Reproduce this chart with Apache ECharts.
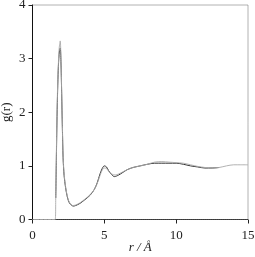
<!DOCTYPE html>
<html><head><meta charset="utf-8">
<script src="https://cdn.jsdelivr.net/npm/echarts@6/dist/echarts.min.js"></script>
<style>html,body{margin:0;padding:0;background:#fff}#c{width:255px;height:257px}</style>
</head><body><div id="c"></div>
<script>
const rGray = [0, 1.58, 1.62, 1.66, 1.70, 1.75, 1.80, 1.86, 1.93, 1.98, 2.03, 2.08, 2.13, 2.20, 2.30, 2.40, 2.50, 2.62, 2.80, 3.0, 3.3, 3.6, 4.0, 4.3, 4.5, 4.7, 4.85, 5.0, 5.15, 5.3, 5.5, 5.75, 6.0, 6.3, 6.6, 7.0, 7.5, 8.0, 8.5, 9.0, 9.5, 10.0, 10.5, 11.0, 11.5, 12.0, 12.5, 13.0, 13.5, 14.0, 14.5, 15.0];
const gGray = [0, 0, 0.5, 1.2, 1.9, 2.5, 2.9, 3.2, 3.33, 3.0, 2.4, 1.75, 1.2, 0.85, 0.62, 0.46, 0.36, 0.30, 0.26, 0.27, 0.31, 0.37, 0.46, 0.56, 0.67, 0.82, 0.92, 0.96, 0.95, 0.90, 0.85, 0.83, 0.85, 0.89, 0.93, 0.97, 1.0, 1.03, 1.07, 1.08, 1.07, 1.06, 1.05, 1.02, 0.99, 0.97, 0.96, 0.97, 1.0, 1.02, 1.02, 1.02];
const rBlack = [1.62, 1.66, 1.70, 1.74, 1.78, 1.83, 1.88, 1.93, 1.98, 2.03, 2.08, 2.13, 2.20, 2.30, 2.40, 2.50, 2.62, 2.85, 3.0, 3.3, 3.6, 4.0, 4.3, 4.5, 4.7, 4.85, 5.0, 5.15, 5.3, 5.5, 5.7, 6.0, 6.3, 6.6, 7.0, 7.5, 8.0, 8.5, 9.0, 9.5, 10.0, 10.5, 11.0, 11.5, 12.0, 12.5, 13.0];
const gBlack = [0.4, 1.1, 1.8, 2.3, 2.7, 3.0, 3.15, 3.2, 2.95, 2.35, 1.7, 1.15, 0.82, 0.6, 0.45, 0.35, 0.29, 0.25, 0.26, 0.30, 0.36, 0.45, 0.56, 0.68, 0.85, 0.95, 1.0, 0.98, 0.91, 0.84, 0.80, 0.83, 0.88, 0.93, 0.97, 1.0, 1.03, 1.05, 1.05, 1.05, 1.05, 1.03, 1.0, 0.98, 0.96, 0.96, 0.97];
const xTicks = [0, 5, 10, 15];
const yTicks = [0, 1, 2, 3, 4];

const font = 'Liberation Serif';
const chart = echarts.init(document.getElementById('c'), null, {renderer: 'canvas'});
chart.setOption({
  animation: false,
  grid: {left: 32.5, right: 7, top: 5, bottom: 37.5, containLabel: false, outerBoundsMode: 'none',
         show: true, borderColor: '#666', borderType: 'dotted', borderWidth: 1},
  xAxis: {
    type: 'value', min: 0, max: 15, interval: 5,
    name: 'r / Å', nameLocation: 'middle', nameGap: 22, nameMoveOverlap: false,
    nameTextStyle: {fontFamily: font, fontSize: 13, fontStyle: 'italic', color: '#222'},
    axisLine: {lineStyle: {color: '#333', type: 'dotted', width: 1}},
    axisTick: {show: true, inside: false, length: 4, lineStyle: {color: '#222'}},
    axisLabel: {fontFamily: font, fontSize: 13, color: '#222', margin: 10, formatter: v => xTicks.includes(v) ? String(v) : ''},
    splitLine: {show: false}
  },
  yAxis: {
    type: 'value', min: 0, max: 4, interval: 1,
    name: 'g(r)', nameLocation: 'middle', nameGap: 19, nameRotate: 90, nameMoveOverlap: false,
    nameTextStyle: {fontFamily: font, fontSize: 13, color: '#222'},
    axisLine: {show: true, lineStyle: {color: '#111', width: 1}},
    axisTick: {show: true, inside: false, length: 4, lineStyle: {color: '#222'}},
    axisLabel: {fontFamily: font, fontSize: 13, color: '#222', margin: 7, formatter: v => yTicks.includes(v) ? String(v) : ''},
    splitLine: {show: false}
  },
  series: [
    {type: 'line', data: rBlack.map((r, i) => [r, gBlack[i]]), showSymbol: false, smooth: 0.3,
     lineStyle: {color: '#333', width: 1}, z: 2},
    {type: 'line', data: rGray.map((r, i) => [r, gGray[i]]), showSymbol: false, smooth: 0.3,
     lineStyle: {color: '#aaa', width: 1, opacity: 0.9}, z: 3}
  ]
});
</script></body></html>
